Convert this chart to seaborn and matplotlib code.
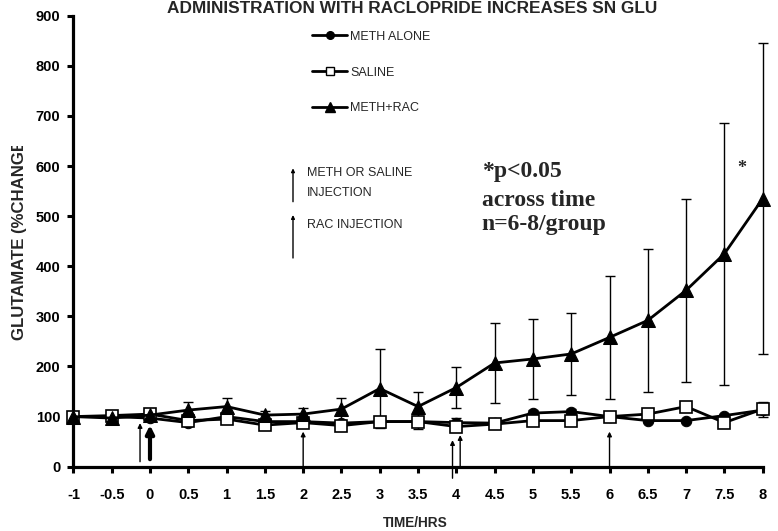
import numpy as np
import pandas as pd
import matplotlib
matplotlib.use("Agg")
import matplotlib.pyplot as plt
import seaborn as sns
from matplotlib.lines import Line2D
from matplotlib.transforms import Bbox

# ---------------- data ----------------
time_hrs = [-1, -0.5, 0, 0.5, 1, 1.5, 2, 2.5, 3, 3.5, 4, 4.5, 5, 5.5, 6, 6.5, 7, 7.5, 8]
x_tick_labels = ["-1", "-0.5", "0", "0.5", "1", "1.5", "2", "2.5", "3", "3.5", "4",
                 "4.5", "5", "5.5", "6", "6.5", "7", "7.5", "8"]
y_ticks = [0, 100, 200, 300, 400, 500, 600, 700, 800, 900]

meth_alone = [100, 100, 97, 88, 100, 90, 90, 87, 90, 90, 88, 87, 107, 110, 100, 92, 92, 102, 113]
meth_alone_se = [3, 3, 3, 3, 5, 3, 3, 3, 3, 3, 10, 3, 6, 6, 5, 3, 3, 3, 3]

saline = [100, 102, 105, 92, 95, 83, 88, 82, 90, 90, 80, 85, 92, 92, 100, 105, 120, 88, 115]
saline_se = [3, 3, 4, 3, 4, 3, 3, 3, 4, 15, 5, 3, 3, 3, 5, 4, 5, 4, 15]

meth_rac = [100, 97, 103, 113, 120, 103, 105, 115, 156, 120, 158, 207, 215, 225, 258, 292, 352, 425, 535]
meth_rac_se = [5, 5, 8, 17, 18, 9, 12, 22, 78, 30, 40, 80, 80, 82, 122, 142, 182, 261, 310]

# injection arrows (time, start value, end value, line width)
arrow_x = [-0.13, 0, 2, 3.95, 4.05, 6]
arrow_y0 = [10, 15, 0, -23, 0, 0]
arrow_y1 = [87, 83, 70, 53, 63, 70]
arrow_lw = [1, 3, 1, 1, 1, 1]

series_names = ["METH ALONE", "SALINE", "METH+RAC"]

df = pd.DataFrame({
    "time": time_hrs * 3,
    "glu": meth_alone + saline + meth_rac,
    "group": [series_names[0]] * len(time_hrs) + [series_names[1]] * len(time_hrs)
             + [series_names[2]] * len(time_hrs),
})

# ---------------- style ----------------
sns.set_theme(style="ticks")
plt.rcParams['font.family'] = ['Liberation Sans', 'DejaVu Sans']

W, H = 778, 531
fig = plt.figure(figsize=(W / 100, H / 100), dpi=100)
x0, x1 = 73.4, 762.7
ytop, ybot = 15.7, 466.7
ax = fig.add_axes([x0 / W, 1 - ybot / H, (x1 - x0) / W, (ybot - ytop) / H])

# error bars
ax.errorbar(time_hrs, meth_alone, yerr=meth_alone_se, fmt='none', ecolor='black',
            elinewidth=1, capsize=3.6, capthick=1, clip_on=False, zorder=2)
ax.errorbar(time_hrs, saline, yerr=saline_se, fmt='none', ecolor='black',
            elinewidth=1, capsize=3.6, capthick=1, clip_on=False, zorder=2)
ax.errorbar(time_hrs, meth_rac, yerr=meth_rac_se, fmt='none', ecolor='black',
            elinewidth=1, capsize=3.6, capthick=1, clip_on=False, zorder=2)

# lines
styles = {
    "METH ALONE": dict(marker='o', markersize=7.5, markerfacecolor='black',
                       markeredgecolor='black', zorder=3),
    "SALINE": dict(marker='s', markersize=8.5, markerfacecolor='white',
                   markeredgecolor='black', markeredgewidth=1.2, zorder=4),
    "METH+RAC": dict(marker='^', markersize=10, markerfacecolor='black',
                     markeredgecolor='black', zorder=5),
}
for name in series_names:
    sub = df[df["group"] == name]
    sns.lineplot(data=sub, x="time", y="glu", ax=ax, color='black', linewidth=2,
                 clip_on=False, legend=False, **styles[name])

# injection arrows
for xa, ya0, ya1, lw in zip(arrow_x, arrow_y0, arrow_y1, arrow_lw):
    ax.annotate('', xy=(xa, ya1), xytext=(xa, ya0), annotation_clip=False,
                arrowprops=dict(arrowstyle='-|>', lw=lw, color='black',
                                mutation_scale=4 + 2.5 * lw, shrinkA=0, shrinkB=0))

# axes
ax.set_xlim(-1, 8)
ax.set_ylim(0, 900)
ax.set_xticks(time_hrs)
ax.set_xticklabels(x_tick_labels)
ax.set_yticks(y_ticks)
ax.set_yticklabels([str(v) for v in y_ticks])
sns.despine(ax=ax)
for s in ['left', 'bottom']:
    ax.spines[s].set_linewidth(2.3)
    ax.spines[s].set_color('black')
ax.tick_params(axis='both', direction='out', length=4.5, width=2.2, colors='black',
               labelsize=10.5)
ax.tick_params(axis='x', pad=11)
ax.tick_params(axis='y', pad=5)
for lbl in ax.get_xticklabels() + ax.get_yticklabels():
    lbl.set_fontweight('bold')
ax.set_xlabel("")
ax.set_ylabel("")
ax.patch.set_alpha(0)

# axis titles
fig.text(415 / W, 1 - 523 / H, "TIME/HRS", ha='center', va='center',
         fontsize=9.8, fontweight='bold')
ylab = fig.text(20 / W, 1 - 340 / H, "GLUTAMATE (%CHANGE)", rotation=90,
                ha='center', va='bottom', fontsize=12.1, fontweight='bold')
ylab.set_clip_box(Bbox.from_extents(0, 0, W, H - 146))
ylab.set_clip_on(True)

# title
fig.text(412 / W, 1 - 13 / H, "ADMINISTRATION WITH RACLOPRIDE INCREASES SN GLU",
         ha='center', va='baseline', fontsize=12.4, fontweight='bold')

# legend
handles = [Line2D([], [], color='black', lw=2, marker='o', markersize=5.5,
                  markerfacecolor='black'),
           Line2D([], [], color='black', lw=2, marker='s', markersize=6,
                  markerfacecolor='white', markeredgewidth=1),
           Line2D([], [], color='black', lw=2, marker='^', markersize=7,
                  markerfacecolor='black')]
leg = fig.legend(handles, series_names, loc='center left',
                 bbox_to_anchor=(312 / W, 1 - 72.5 / H), bbox_transform=fig.transFigure,
                 frameon=False, borderpad=0, borderaxespad=0, handlelength=2.8,
                 handletextpad=0.25, labelspacing=1.9, fontsize=9, numpoints=1)

# arrow legend
ax.annotate('', xy=(293 / W, 1 - 168.3 / H), xytext=(293 / W, 1 - 201.7 / H),
            xycoords='figure fraction', textcoords='figure fraction',
            arrowprops=dict(arrowstyle='-|>', lw=1, color='black', mutation_scale=5,
                            shrinkA=0, shrinkB=0))
ax.annotate('', xy=(293 / W, 1 - 215 / H), xytext=(293 / W, 1 - 258 / H),
            xycoords='figure fraction', textcoords='figure fraction',
            arrowprops=dict(arrowstyle='-|>', lw=1, color='black', mutation_scale=5,
                            shrinkA=0, shrinkB=0))
fig.text(307 / W, 1 - 173 / H, "METH OR SALINE", ha='left', va='center', fontsize=9)
fig.text(307 / W, 1 - 193 / H, "INJECTION", ha='left', va='center', fontsize=9)
fig.text(307 / W, 1 - 225 / H, "RAC INJECTION", ha='left', va='center', fontsize=9)

# statistics annotation
serif = ['Liberation Serif', 'DejaVu Serif']
fig.text(481.7 / W, 1 - 176.7 / H, "*p<0.05", ha='left', va='baseline',
         fontsize=17, fontweight='bold', family=serif)
fig.text(481.7 / W, 1 - 206 / H, "across time", ha='left', va='baseline',
         fontsize=17, fontweight='bold', family=serif)
fig.text(481.7 / W, 1 - 230 / H, "n=6-8/group", ha='left', va='baseline',
         fontsize=17, fontweight='bold', family=serif)
fig.text(741.7 / W, 1 - 173 / H, "*", ha='center', va='baseline',
         fontsize=13, fontweight='bold', family=serif)

fig.savefig("out.png", dpi=100, facecolor='white')
